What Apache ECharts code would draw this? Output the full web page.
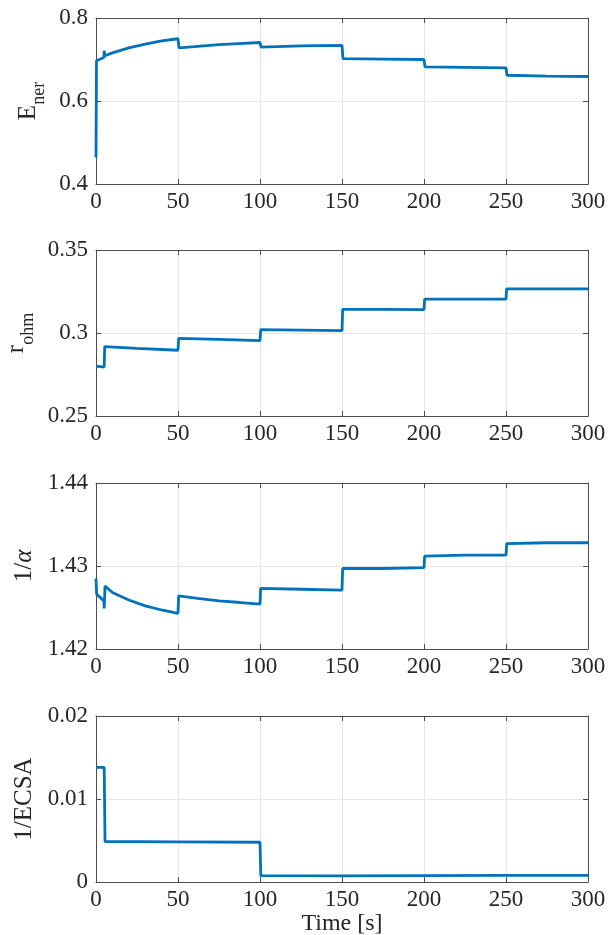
<!DOCTYPE html>
<html>
<head>
<meta charset="utf-8">
<script src="https://cdn.jsdelivr.net/npm/echarts@6/dist/echarts.min.js"></script>
<style>html,body{margin:0;padding:0;background:#fff;}#c{width:613px;height:935px;}</style>
</head>
<body>
<div id="c"></div>
<script>
// ---- Data ----
const xTicks = [0, 50, 100, 150, 200, 250, 300];

const tE = [0, 0.3, 4.8, 5, 5.4, 10, 20, 30, 40, 50, 50.6, 60, 75, 90, 100, 100.6, 125, 150, 150.6, 175, 200, 200.6, 225, 250, 250.6, 275, 300];
const E_ner = [0.464, 0.697, 0.705, 0.721, 0.709, 0.716, 0.728, 0.737, 0.745, 0.750, 0.728, 0.731, 0.736, 0.739, 0.741, 0.730, 0.733, 0.734, 0.702, 0.701, 0.700, 0.682, 0.681, 0.680, 0.662, 0.660, 0.659];

const tR = [0, 5, 5.3, 25, 50, 50.4, 75, 100, 100.4, 125, 150, 150.4, 175, 200, 200.4, 225, 250, 250.4, 275, 300];
const r_ohm = [0.2800, 0.2795, 0.2918, 0.2907, 0.2896, 0.2968, 0.2961, 0.2954, 0.3020, 0.3017, 0.3014, 0.3142, 0.3142, 0.3141, 0.3204, 0.3204, 0.3204, 0.3266, 0.3266, 0.3266];

const tA = [0, 0.4, 4.8, 5, 5.5, 10, 20, 30, 40, 50, 50.4, 62, 75, 88, 100, 100.4, 125, 150, 150.4, 175, 200, 200.4, 225, 250, 250.4, 275, 300];
const inv_alpha = [1.4285, 1.4266, 1.4258, 1.4249, 1.4276, 1.4268, 1.4259, 1.4252, 1.4247, 1.4243, 1.4264, 1.4261, 1.4258, 1.4256, 1.4254, 1.4273, 1.4272, 1.4271, 1.4297, 1.4297, 1.4298, 1.4312, 1.4313, 1.4313, 1.4327, 1.4328, 1.4328];

const tS = [0, 5, 5.5, 50, 100, 100.5, 150, 200, 250, 300];
const inv_ECSA = [0.0138, 0.0138, 0.00488, 0.00484, 0.00479, 0.00076, 0.00075, 0.00077, 0.00079, 0.0008];

const yRanges = [[0.4, 0.8, 0.2], [0.25, 0.35, 0.05], [1.42, 1.44, 0.01], [0, 0.02, 0.01]];

// ---- Layout / style ----
const FONT = 'Times New Roman, Liberation Serif, Tinos, serif';
const TXT = '#262626';
const AX = '#4d4d4d';
const BLUE = '#0072BD';
const tops = [18, 250, 483, 716];
const H = 166;

const names = [
  '{m|E}{s|ner}',
  '{m|r}{s|ohm}',
  '{m|1/}{g|α}',
  '{m|1/ECSA}'
];
const rich = {
  m: {fontFamily: FONT, fontSize: 25, color: TXT, verticalAlign: 'middle', lineHeight: 26},
  s: {fontFamily: FONT, fontSize: 18, color: TXT, verticalAlign: 'bottom', lineHeight: 40},
  g: {fontFamily: FONT, fontSize: 25, color: TXT, fontStyle: 'italic', verticalAlign: 'middle', lineHeight: 26}
};

const series = [[tE, E_ner], [tR, r_ohm], [tA, inv_alpha], [tS, inv_ECSA]];

const grid = [], xAxis = [], yAxis = [], ser = [];
for (let i = 0; i < 4; i++) {
  grid.push({left: 96, right: 25, top: tops[i], height: H, containLabel: false, outerBoundsMode: 'none'});
  const [ymin, ymax, yint] = yRanges[i];
  xAxis.push({
    type: 'value', gridIndex: i, min: 0, max: 300, interval: 50, position: 'bottom',
    axisLine: {show: true, onZero: false, lineStyle: {color: AX, width: 1}},
    axisTick: {show: true, inside: true, length: 5, lineStyle: {color: AX}},
    axisLabel: {show: true, fontFamily: FONT, fontSize: 23, color: TXT, margin: 6,
      formatter: v => xTicks.includes(v) ? String(v) : ''},
    splitLine: {show: true, lineStyle: {color: '#e6e6e6', width: 1}},
    name: i === 3 ? 'Time [s]' : '', nameLocation: 'middle', nameGap: 29,
    nameTextStyle: {fontFamily: FONT, fontSize: 24, color: TXT}
  });
  xAxis.push({
    type: 'value', gridIndex: i, min: 0, max: 300, interval: 50, position: 'top',
    axisLine: {show: true, onZero: false, lineStyle: {color: AX, width: 1}},
    axisTick: {show: true, inside: true, length: 5, lineStyle: {color: AX}},
    axisLabel: {show: false}, splitLine: {show: false}
  });
  yAxis.push({
    type: 'value', gridIndex: i, min: ymin, max: ymax, interval: yint, position: 'left',
    axisLine: {show: true, onZero: false, lineStyle: {color: AX, width: 1}},
    axisTick: {show: true, inside: true, length: 5, lineStyle: {color: AX}},
    axisLabel: {show: true, fontFamily: FONT, fontSize: 23, color: TXT, margin: 8},
    splitLine: {show: true, lineStyle: {color: '#e6e6e6', width: 1}},
    name: names[i], nameLocation: 'middle', nameGap: 46, nameRotate: 90,
    nameTextStyle: {rich: rich}
  });
  yAxis.push({
    type: 'value', gridIndex: i, min: ymin, max: ymax, interval: yint, position: 'right',
    axisLine: {show: true, onZero: false, lineStyle: {color: AX, width: 1}},
    axisTick: {show: true, inside: true, length: 5, lineStyle: {color: AX}},
    axisLabel: {show: false}, splitLine: {show: false}
  });
  const [ts, vs] = series[i];
  ser.push({
    type: 'line', xAxisIndex: 2 * i, yAxisIndex: 2 * i,
    data: ts.map((t, k) => [t, vs[k]]),
    showSymbol: false, symbol: 'none',
    lineStyle: {color: BLUE, width: 2.8}, z: 3
  });
}

const chart = echarts.init(document.getElementById('c'), null, {renderer: 'canvas'});
chart.setOption({
  animation: false,
  backgroundColor: '#fff',
  grid, xAxis, yAxis, series: ser
});
</script>
</body>
</html>
